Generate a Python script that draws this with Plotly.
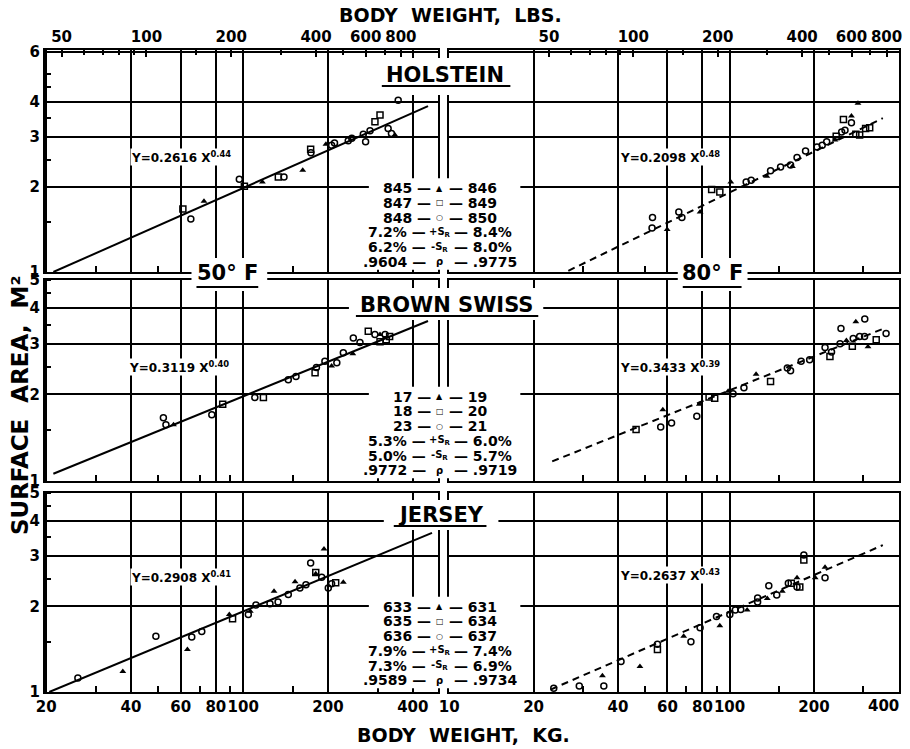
import math
import plotly.graph_objects as go

# ------------------------------------------------------------------ data
# Holstein, 50 F
hol50_tri_x = [72.6, 117, 162.7, 196.7, 345.6]
hol50_tri_y = [1.78, 2.08, 2.29, 2.83, 3.05]
hol50_sq_x = [61.1, 101, 133.3, 173.6, 293.6, 306]
hol50_sq_y = [1.67, 2.01, 2.17, 2.72, 3.40, 3.59]
hol50_ci_x = [65.2, 96.9, 139.6, 174, 206, 211, 236, 243, 266.9, 272, 282, 327, 336, 355]
hol50_ci_y = [1.54, 2.13, 2.17, 2.64, 2.81, 2.86, 2.91, 2.97, 3.07, 2.89, 3.16, 3.22, 3.09, 4.05]
hol50_line_x = [21.2, 453]
hol50_line_y = [1.0, 3.86]

# Holstein, 80 F
hol80_tri_x = [59.9, 78.5, 101, 135.8, 167.5, 237.7, 272, 287]
hol80_tri_y = [1.415, 1.63, 2.08, 2.18, 2.36, 2.93, 3.56, 3.95]
hol80_sq_x = [86.3, 92.3, 240, 254.7, 282, 291, 305.6, 316]
hol80_sq_y = [1.96, 1.92, 3.02, 3.46, 3.07, 3.05, 3.22, 3.24]
hol80_ci_x = [53.1, 52.9, 65.9, 67.6, 114.6, 119.4, 140, 152, 165, 174, 186.6, 205, 214, 222, 251, 258, 272]
hol80_ci_y = [1.56, 1.43, 1.63, 1.56, 2.08, 2.11, 2.28, 2.35, 2.39, 2.54, 2.68, 2.77, 2.81, 2.89, 3.13, 3.17, 3.37]
hol80_line_x = [26.6, 352]
hol80_line_y = [1.01, 3.50]

# Brown Swiss, 50 F
bs50_tri_x = [56.6, 206, 245, 306]
bs50_tri_y = [1.57, 2.51, 2.77, 3.23]
bs50_sq_x = [84.6, 118, 180, 278, 306, 322, 331]
bs50_sq_y = [1.85, 1.95, 2.38, 3.32, 3.05, 3.10, 3.18]
bs50_ci_x = [52.1, 53.2, 77.4, 110, 144.6, 154, 182, 195, 215, 226.7, 246, 259.8, 293.5, 319]
bs50_ci_y = [1.66, 1.57, 1.70, 1.95, 2.25, 2.31, 2.48, 2.61, 2.58, 2.79, 3.14, 3.03, 3.23, 3.23]
bs50_line_x = [21.2, 453]
bs50_line_y = [1.06, 3.60]

# Brown Swiss, 80 F
bs80_tri_x = [57.8, 78, 98.8, 124.3, 261, 282, 311.6]
bs80_tri_y = [1.77, 1.85, 2.05, 2.35, 3.08, 3.58, 2.93]
bs80_sq_x = [46.4, 84.5, 88.5, 140, 228, 274, 333.4]
bs80_sq_y = [1.51, 1.96, 1.94, 2.22, 2.71, 2.94, 3.10]
bs80_ci_x = [56.8, 62.1, 76.4, 102.9, 112.5, 160.7, 165, 180, 193, 219, 231, 247.7, 249.6, 276, 291, 303, 303.5, 361.5]
bs80_ci_y = [1.54, 1.59, 1.68, 2.01, 2.11, 2.47, 2.42, 2.61, 2.64, 2.91, 2.81, 3.00, 3.39, 3.13, 3.18, 3.18, 3.66, 3.26]
bs80_line_x = [23.3, 352]
bs80_line_y = [1.17, 3.38]

# Jersey, 50 F
jer50_tri_x = [37.4, 63.4, 89.3, 106, 128.7, 152.8, 181, 193.6, 226.7]
jer50_tri_y = [1.18, 1.41, 1.87, 1.92, 2.26, 2.44, 2.60, 3.18, 2.43]
jer50_sq_x = [22.6, 91.7, 181, 213]
jer50_sq_y = [0.98, 1.81, 2.63, 2.42]
jer50_ci_x = [25.9, 49, 65.7, 71.3, 104.3, 111, 124.5, 133, 144.6, 159, 167, 173.6, 190, 200.5, 206]
jer50_ci_y = [1.12, 1.57, 1.56, 1.63, 1.87, 2.02, 2.04, 2.07, 2.20, 2.32, 2.38, 2.84, 2.53, 2.32, 2.40]
jer50_line_x = [20.5, 468]
jer50_line_y = [1.0, 3.62]

# Jersey, 80 F
jer80_tri_x = [35.2, 47.9, 68.6, 92.3, 115.5, 136.3, 154.2, 174, 202, 219]
jer80_tri_y = [1.14, 1.23, 1.57, 1.71, 1.94, 2.13, 2.26, 2.52, 2.52, 2.74]
jer80_sq_x = [55.3, 166, 178, 184]
jer80_sq_y = [1.41, 2.41, 2.34, 2.91]
jer80_ci_x = [22.3, 23.6, 29.1, 35.6, 41, 55.3, 72.8, 78.5, 89.8, 100.2, 104.8, 109.6, 125.9, 125.9, 138, 147.3, 162, 174, 184, 219]
jer80_ci_y = [0.95, 1.03, 1.05, 1.05, 1.28, 1.47, 1.50, 1.68, 1.84, 1.87, 1.94, 1.95, 2.14, 2.07, 2.36, 2.19, 2.41, 2.34, 3.03, 2.52]
jer80_line_x = [23, 352]
jer80_line_y = [1.02, 3.28]

# Equations
equations = ["Y=0.2616 X<sup>0.44</sup>", "Y=0.2098 X<sup>0.48</sup>",
             "Y=0.3119 X<sup>0.40</sup>", "Y=0.3433 X<sup>0.39</sup>",
             "Y=0.2908 X<sup>0.41</sup>", "Y=0.2637 X<sup>0.43</sup>"]

# Summary tables (50 F column, 80 F column)
breeds = ["HOLSTEIN", "BROWN SWISS", "JERSEY"]
table_mid = ["▲", "□", "○", "+S<sub>R</sub>", "-S<sub>R</sub>", "ρ"]
hol_col50 = ["845", "847", "848", "7.2%", "6.2%", ".9604"]
hol_col80 = ["846", "849", "850", "8.4%", "8.0%", ".9775"]
bs_col50 = ["17", "18", "23", "5.3%", "5.0%", ".9772"]
bs_col80 = ["19", "20", "21", "6.0%", "5.7%", ".9719"]
jer_col50 = ["633", "635", "636", "7.9%", "7.3%", ".9589"]
jer_col80 = ["631", "634", "637", "7.4%", "6.9%", ".9734"]

# Axis ticks
kg_labelled_left = [20, 40, 60, 80, 100, 200, 400]
kg_labelled_right = [10, 20, 40, 60, 80, 100, 200]
kg_edge_label = "400"
kg_minor = [30, 50, 70, 90, 150, 300]
lbs_labelled = [50, 100, 200, 400, 600, 800]
lbs_minor = [60, 70, 80, 90, 150, 300, 500, 700]
area_top = [1, 2, 3, 4, 6]
area_mid = [1, 2, 3, 4, 5]
area_minor = [1.5, 2.5, 3.5, 4.5, 5]

# ------------------------------------------------------------------ layout helpers
FONT = "DejaVu Sans"
W, H = 910, 749
ML, MR, MT, MB = 45, 8, 50, 57
PW = W - ML - MR
PH = H - MT - MB
LB_PER_KG = 2.2046


def px(xp):
    return (xp - ML) / PW


def py(yp):
    return (H - MB - yp) / PH


XL = (19.8, 490)
XR = (9.95, 402)
X_DOM_L = [0, px(439)]
X_DOM_R = [px(450), 1]
Y_DOMS = [[py(272), 1], [py(481), py(280)], [0, py(493)]]
Y_RNGS = [(1.0, 6.1), (1.0, 5.0), (1.0, 5.0)]

tickfont = dict(family=FONT, size=15, color="black", weight="bold")


def xcfg(dom, rng, anchor, labels, right):
    vals = kg_labelled_right if right else kg_labelled_left
    return dict(type="log", domain=dom, range=[math.log10(rng[0]), math.log10(rng[1])],
                anchor=anchor, tickmode="array", tickvals=vals,
                ticktext=[str(v) for v in vals], tickangle=0,
                showticklabels=labels, ticks="", showgrid=True,
                gridcolor="black", gridwidth=1.5, showline=True, linewidth=2,
                linecolor="black", mirror=True, zeroline=False, tickfont=tickfont,
                minor=dict(tickmode="array", tickvals=kg_minor, showgrid=False,
                           ticks="inside", ticklen=6, tickwidth=1.5, tickcolor="black"),
                fixedrange=True)


def ycfg(dom, rng, anchor, labels, top):
    vals = area_top if top else area_mid
    return dict(type="log", domain=dom, range=[math.log10(rng[0]), math.log10(rng[1])],
                anchor=anchor, tickmode="array", tickvals=vals,
                ticktext=[str(v) for v in vals],
                showticklabels=labels, ticks="", showgrid=True,
                gridcolor="black", gridwidth=1.6, showline=True,
                linewidth=2, linecolor="black", mirror=True, zeroline=False,
                tickfont=tickfont,
                minor=dict(tickmode="array", tickvals=area_minor if labels else [],
                           showgrid=False, ticks="inside", ticklen=6, tickwidth=1.5,
                           tickcolor="black"),
                fixedrange=True)


def lbscfg(overlay, anchor, rng):
    return dict(type="log", overlaying=overlay, side="top", anchor=anchor,
                range=[math.log10(rng[0] * LB_PER_KG), math.log10(rng[1] * LB_PER_KG)],
                tickmode="array", tickvals=lbs_labelled,
                ticktext=[str(v) for v in lbs_labelled], tickangle=0,
                ticks="inside", ticklen=7, tickwidth=1.5, tickcolor="black",
                showgrid=False, showline=True, linewidth=2, linecolor="black",
                zeroline=False, tickfont=tickfont, fixedrange=True,
                minor=dict(tickmode="array", tickvals=lbs_minor, ticks="inside",
                           ticklen=5, tickwidth=1.5, tickcolor="black", showgrid=False))


fig = go.Figure()

panels = [
    ("x", "y", hol50_tri_x, hol50_tri_y, hol50_sq_x, hol50_sq_y, hol50_ci_x, hol50_ci_y, hol50_line_x, hol50_line_y, "solid"),
    ("x2", "y2", hol80_tri_x, hol80_tri_y, hol80_sq_x, hol80_sq_y, hol80_ci_x, hol80_ci_y, hol80_line_x, hol80_line_y, "7px,5px"),
    ("x3", "y3", bs50_tri_x, bs50_tri_y, bs50_sq_x, bs50_sq_y, bs50_ci_x, bs50_ci_y, bs50_line_x, bs50_line_y, "solid"),
    ("x4", "y4", bs80_tri_x, bs80_tri_y, bs80_sq_x, bs80_sq_y, bs80_ci_x, bs80_ci_y, bs80_line_x, bs80_line_y, "7px,5px"),
    ("x5", "y5", jer50_tri_x, jer50_tri_y, jer50_sq_x, jer50_sq_y, jer50_ci_x, jer50_ci_y, jer50_line_x, jer50_line_y, "solid"),
    ("x6", "y6", jer80_tri_x, jer80_tri_y, jer80_sq_x, jer80_sq_y, jer80_ci_x, jer80_ci_y, jer80_line_x, jer80_line_y, "7px,5px"),
]

for (xa, ya, tx, ty, sx, sy, cx, cy, lx, ly, dash) in panels:
    fig.add_trace(go.Scatter(x=lx, y=ly, mode="lines", xaxis=xa, yaxis=ya,
                             line=dict(color="black", width=2, dash=dash),
                             showlegend=False, hoverinfo="skip"))
    fig.add_trace(go.Scatter(x=tx, y=ty, mode="markers", xaxis=xa, yaxis=ya, cliponaxis=False,
                             marker=dict(symbol="triangle-up", size=6, color="black"),
                             showlegend=False))
    fig.add_trace(go.Scatter(x=sx, y=sy, mode="markers", xaxis=xa, yaxis=ya, cliponaxis=False,
                             marker=dict(symbol="square-open", size=6, color="black",
                                         line=dict(width=1.5)),
                             showlegend=False))
    fig.add_trace(go.Scatter(x=cx, y=cy, mode="markers", xaxis=xa, yaxis=ya, cliponaxis=False,
                             marker=dict(symbol="circle-open", size=6, color="black",
                                         line=dict(width=1.5)),
                             showlegend=False))

# empty traces so the top (lbs) axes are drawn
fig.add_trace(go.Scatter(x=[], y=[], xaxis="x7", yaxis="y", showlegend=False))
fig.add_trace(go.Scatter(x=[], y=[], xaxis="x8", yaxis="y2", showlegend=False))

layout = dict(
    width=W, height=H, margin=dict(l=ML, r=MR, t=MT, b=MB),
    paper_bgcolor="white", plot_bgcolor="white", showlegend=False,
    font=dict(family=FONT, color="black"),
)
axis_n = 1
for row in range(3):
    for col in range(2):
        xs = "xaxis" if axis_n == 1 else f"xaxis{axis_n}"
        ys = "yaxis" if axis_n == 1 else f"yaxis{axis_n}"
        xa_anchor = "y" if axis_n == 1 else f"y{axis_n}"
        ya_anchor = "x" if axis_n == 1 else f"x{axis_n}"
        right = col == 1
        layout[xs] = xcfg(X_DOM_R if right else X_DOM_L, XR if right else XL,
                          xa_anchor, row == 2, right)
        layout[ys] = ycfg(Y_DOMS[row], Y_RNGS[row], ya_anchor, not right, row == 0)
        axis_n += 1
layout["xaxis7"] = lbscfg("x", "y", XL)
layout["xaxis8"] = lbscfg("x2", "y2", XR)
fig.update_layout(**layout)


# ------------------------------------------------------------------ decorations
def cover(x0, y0, x1, y1):
    fig.add_shape(type="rect", xref="paper", yref="paper", x0=px(x0), x1=px(x1),
                  y0=py(y1), y1=py(y0), fillcolor="white", line_width=0, layer="above")


def hline(x0, x1, y, w=2):
    fig.add_shape(type="line", xref="paper", yref="paper", x0=px(x0), x1=px(x1),
                  y0=py(y), y1=py(y), line=dict(color="black", width=w), layer="above")


def text(xp, yp, s, size, xanchor="center", bg="rgba(0,0,0,0)", angle=0):
    fig.add_annotation(x=px(xp), y=py(yp), xref="paper", yref="paper", text=s,
                       showarrow=False, xanchor=xanchor, yanchor="middle",
                       font=dict(family=FONT, size=size, color="black", weight="bold"),
                       bgcolor=bg, borderpad=0, textangle=angle)


# breed titles
title_pos = [(446, 75, 380, 58, 515, 95, 383, 512, 86),
             (448, 305, 350, 288, 545, 320, 357, 540, 316),
             (442, 515, 385, 500, 500, 530, 395, 488, 526)]
for name, (cxp, cyp, a0, b0, a1, b1, u0, u1, uy) in zip(breeds, title_pos):
    cover(a0, b0, a1, b1)
    text(cxp, cyp, name, 21)
    hline(u0, u1, uy, 2.2)

# temperature labels
cover(192, 258, 268, 291)
text(228, 273, "50° F", 21)
hline(197, 259, 287, 2.2)
cover(680, 258, 750, 291)
text(715, 273, "80° F", 21)
hline(685, 744, 287, 2.2)

# summary tables
tables = [(hol_col50, hol_col80, 188.3), (bs_col50, bs_col80, 396.7), (jer_col50, jer_col80, 606.7)]
for c50, c80, y0 in tables:
    cover(370, y0 - 10, 522, y0 + 5 * 14.7 + 8)
    for i, (a, m, b) in enumerate(zip(c50, table_mid, c80)):
        yy = y0 + i * 14.7
        wide = i >= 3
        text(428 if wide else 433, yy, f"{a} —", 14, xanchor="right")
        text(441, yy, m, 10 if wide else 8)
        text(454 if wide else 449, yy, f"— {b}", 14, xanchor="left")

# regression equations
eq_pos = [(181, 157), (672, 157), (179, 367), (672, 367), (181, 577), (672, 575)]
for eq, (ex, ey) in zip(equations, eq_pos):
    text(ex, ey, eq, 12, bg="white")

# right-edge kg label (sits at the frame corner)
text(903, 706, kg_edge_label, 15, xanchor="right")

# axis titles
text(452, 15, "BODY  WEIGHT,  LBS.", 19)
text(465, 735, "BODY  WEIGHT,  KG.", 19)
text(20, 405, "SURFACE  AREA,  M²", 23, angle=-90)

fig.write_html("out.html", config={"displayModeBar": False},
               post_script="document.body.style.margin='0';")
